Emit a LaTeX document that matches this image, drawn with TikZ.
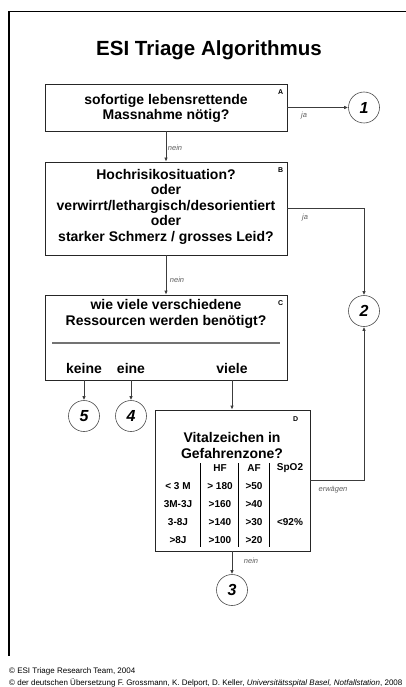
\documentclass[tikz,border=0pt]{standalone}
\usepackage{fontspec}
\setmainfont{Liberation Sans}
\usepackage{tikz}
\definecolor{linegray}{RGB}{60,60,60}
\definecolor{labelgray}{RGB}{95,95,95}
\usetikzlibrary{arrows.meta}

\begin{document}
\begin{tikzpicture}[x=1pt,y=-1pt,
        box/.style={draw=black!85,line width=0.8pt,inner sep=0pt},
        boxtext/.style={font=\bfseries\fontsize{14}{15.5}\selectfont,align=center,inner sep=0pt},
        endcircle/.style={draw=black!70,line width=0.6pt,circle,minimum size=31pt,inner sep=0pt,font=\bfseries\itshape\fontsize{16}{16}\selectfont},
        corner/.style={font=\bfseries\fontsize{7}{7}\selectfont,inner sep=0pt,anchor=north east},
        answer/.style={font=\itshape\fontsize{7.5}{8}\selectfont,text=labelgray,inner sep=0pt},
        cell/.style={font=\bfseries\fontsize{10}{10}\selectfont,inner sep=0pt},
        footer/.style={anchor=west,inner sep=0pt,font=\fontsize{8}{9}\selectfont},
        arr/.style={draw=linegray,line width=0.8pt,-{Latex[length=4pt,width=3.5pt]}}]
        \useasboundingbox (0,0) rectangle (406,687);

        % frame and title
        \draw[line width=1.2pt] (406,11.5) -- (9,11.5) -- (9,656);
        \node[font=\bfseries\fontsize{20.5}{24}\selectfont] (title) at (209,50) {ESI Triage Algorithmus};

        % boxes
        \node[box,minimum width=242pt,minimum height=47pt] (A) at (166,107.5) {};
        \node[box,minimum width=242pt,minimum height=93pt] (B) at (166,208.5) {};
        \node[box,minimum width=242pt,minimum height=85pt] (C) at (166,337.5) {};
        \node[box,minimum width=155pt,minimum height=141pt] (D) at (232.5,480.5) {};

        \node[corner] (la) at ([shift={(-4,6)}]A.north east) {A};
        \node[corner] (lb) at ([shift={(-4,6)}]B.north east) {B};
        \node[corner] (lc) at ([shift={(-4,6)}]C.north east) {C};
        \node[corner] (ld) at ([shift={(-12,7)}]D.north east) {D};

        \node[boxtext] (qa) at (166,108.5) {sofortige lebensrettende\\Massnahme nötig?};
        \node[boxtext] (qb) at (166,206.5) {Hochrisikosituation?\\oder\\verwirrt/lethargisch/desorientiert\\oder\\starker Schmerz / grosses Leid?};
        \node[boxtext] (qc) at (166,314) {wie viele verschiedene\\Ressourcen werden benötigt?};
        \draw[draw=black!55,line width=1.3pt] (52,343) -- (280,343);
        \node[boxtext] (keine) at (84,368) {keine};
        \node[boxtext] (eine) at (131,368) {eine};
        \node[boxtext] (viele) at (232,368) {viele};

        % vital signs table
        \node[boxtext] (qd) at (232,445.5) {Vitalzeichen in\\Gefahrenzone?};
        \draw[line width=0.8pt] (200,463) -- (200,547);
        \draw[line width=0.8pt] (238,463) -- (238,547);
        \draw[line width=0.8pt] (269,463) -- (269,547);
        \node[cell] (hf) at (220,468) {HF};
        \node[cell] (af) at (254,468) {AF};
        \node[cell] (spo) at (290,468) {SpO2};
        \node[cell] (age1) at (178,486) {< 3 M};
        \node[cell] (age2) at (178,504) {3M-3J};
        \node[cell] (age3) at (178,522) {3-8J};
        \node[cell] (age4) at (178,540) {>8J};
        \node[cell] (hf1) at (220,486) {> 180};
        \node[cell] (hf2) at (220,504) {>160};
        \node[cell] (hf3) at (220,522) {>140};
        \node[cell] (hf4) at (220,540) {>100};
        \node[cell] (af1) at (254,486) {>50};
        \node[cell] (af2) at (254,504) {>40};
        \node[cell] (af3) at (254,522) {>30};
        \node[cell] (af4) at (254,540) {>20};
        \node[cell] (spo3) at (290,522) {<92\%};

        % triage levels
        \node[endcircle] (c1) at (364,107.5) {1};
        \node[endcircle] (c2) at (364,311) {2};
        \node[endcircle] (c3) at (232,590) {3};
        \node[endcircle] (c4) at (131,416) {4};
        \node[endcircle] (c5) at (84,416) {5};

        % connectors
        \draw[arr] (A.east) -- (c1.west);
        \draw[arr] (A) -- (B);
        \draw[arr] (B.east) -| (c2.north);
        \draw[arr] (B) -- (C);
        \draw[arr] (keine |- C.south) -- (c5.north);
        \draw[arr] (eine |- C.south) -- (c4.north);
        \draw[arr] (viele |- C.south) -- (D.north -| viele);
        \draw[arr] (D.east) -| (c2.south);
        \draw[arr] (D.south -| c3) -- (c3.north);

        \node[answer] (ja1) at (304,116) {ja};
        \node[answer] (nein1) at (175,148) {nein};
        \node[answer] (ja2) at (305,218) {ja};
        \node[answer] (nein2) at (177,280) {nein};
        \node[answer] (erw) at (333,490) {erwägen};
        \node[answer] (nein3) at (251,561) {nein};

        % footer
        \node[footer] (foot1) at (9,671) {© ESI Triage Research Team, 2004};
        \node[footer] (foot2) at (9,683) {© der deutschen Übersetzung F. Grossmann, K. Delport, D. Keller, \textit{Universitätsspital Basel, Notfallstation}, 2008};
    \end{tikzpicture}
\end{document}
